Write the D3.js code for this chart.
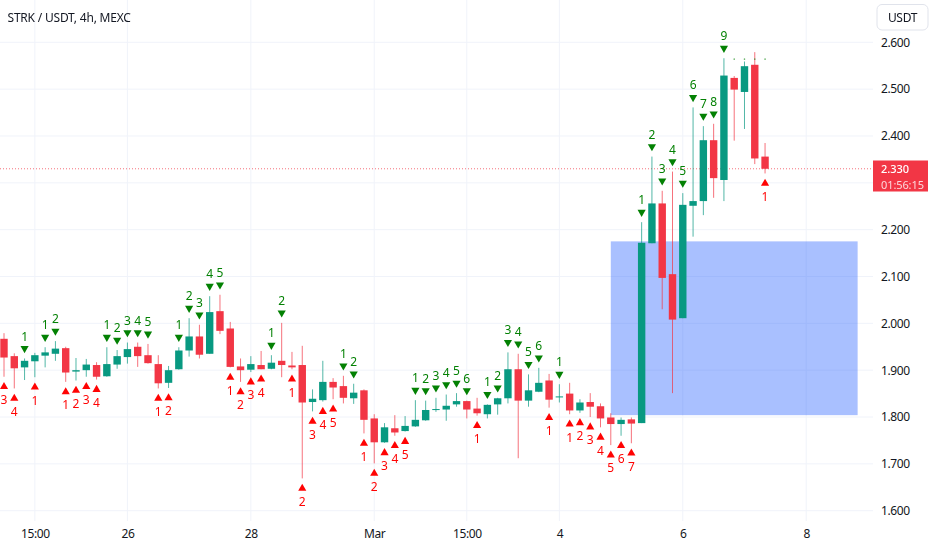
<!DOCTYPE html>
<html>
<head>
<meta charset="utf-8">
<script src="https://d3js.org/d3.v7.min.js"></script>
<style>
  html, body { margin: 0; padding: 0; background: #fff; }
  text { font-family: "Noto Sans", sans-serif; }
  .axis path, .axis line { display: none; }
  .axis text { font-size: 12px; fill: #131722; letter-spacing: -0.4px; }
  .marks { opacity: 0.99; }
</style>
</head>
<body>
<div id="chart"></div>
<script>
// Candle values, one entry per 4h bar
const opens = [
  1.967, 1.930, 1.906, 1.919, 1.931, 1.935, 1.947, 1.897, 1.900, 1.911,
  1.887, 1.912, 1.928, 1.950, 1.932, 1.913, 1.873, 1.902, 1.942, 1.972,
  1.935, 2.026, 1.989, 1.908, 1.901, 1.911, 1.903, 1.920, 1.910, 1.911,
  1.832, 1.836, 1.875, 1.866, 1.840, 1.857, 1.797, 1.746, 1.776, 1.770,
  1.780, 1.793, 1.815, 1.816, 1.827, 1.834, 1.818, 1.806, 1.827, 1.840,
  1.902, 1.835, 1.854, 1.878, 1.843, 1.850, 1.814, 1.832, 1.823, 1.799,
  1.785, 1.795, 1.787, 2.171, 2.256, 2.105, 2.011, 2.251, 2.261, 2.391,
  2.306, 2.524, 2.494, 2.552, 2.356
];
const highs = [
  1.979, 1.936, 1.925, 1.937, 1.949, 1.962, 1.950, 1.926, 1.924, 1.917,
  1.949, 1.943, 1.959, 1.959, 1.956, 1.932, 1.909, 1.949, 2.011, 1.997,
  2.058, 2.061, 2.003, 1.925, 1.930, 1.941, 1.932, 2.001, 1.939, 1.952,
  1.859, 1.920, 1.883, 1.888, 1.871, 1.859, 1.806, 1.787, 1.804, 1.802,
  1.836, 1.835, 1.841, 1.848, 1.851, 1.835, 1.841, 1.827, 1.841, 1.938,
  1.935, 1.891, 1.905, 1.892, 1.870, 1.873, 1.838, 1.851, 1.829, 1.808,
  1.799, 1.799, 2.216, 2.356, 2.283, 2.324, 2.278, 2.461, 2.421, 2.426,
  2.566, 2.528, 2.559, 2.579, 2.385
];
const lows = [
  1.886, 1.861, 1.879, 1.885, 1.906, 1.920, 1.875, 1.878, 1.886, 1.880,
  1.886, 1.903, 1.914, 1.907, 1.914, 1.861, 1.862, 1.901, 1.929, 1.925,
  1.935, 1.977, 1.906, 1.875, 1.896, 1.902, 1.902, 1.885, 1.902, 1.669,
  1.812, 1.833, 1.838, 1.829, 1.828, 1.765, 1.701, 1.745, 1.760, 1.769,
  1.779, 1.792, 1.811, 1.792, 1.822, 1.797, 1.803, 1.797, 1.805, 1.829,
  1.712, 1.822, 1.853, 1.820, 1.831, 1.806, 1.809, 1.800, 1.778, 1.740,
  1.760, 1.744, 1.787, 2.171, 2.030, 1.851, 2.011, 2.185, 2.231, 2.268,
  2.261, 2.390, 2.415, 2.340, 2.320
];
const closes = [
  1.927, 1.904, 1.920, 1.932, 1.938, 1.946, 1.895, 1.900, 1.912, 1.886,
  1.913, 1.930, 1.945, 1.930, 1.915, 1.872, 1.900, 1.942, 1.972, 1.933,
  2.024, 1.984, 1.907, 1.900, 1.913, 1.902, 1.916, 1.911, 1.906, 1.831,
  1.839, 1.875, 1.863, 1.841, 1.852, 1.794, 1.746, 1.778, 1.767, 1.781,
  1.794, 1.815, 1.817, 1.824, 1.834, 1.816, 1.808, 1.826, 1.840, 1.902,
  1.835, 1.857, 1.873, 1.837, 1.844, 1.814, 1.831, 1.822, 1.797, 1.785,
  1.794, 1.786, 2.172, 2.256, 2.097, 2.008, 2.253, 2.261, 2.391, 2.310,
  2.529, 2.499, 2.549, 2.352, 2.330
];

// Sequential count marks: [bar index, count]
const upCounts = [
  [2,1],[4,1],[5,2],[10,1],[11,2],[12,3],[13,4],[14,5],[17,1],[18,2],[19,3],[20,4],[21,5],
  [26,1],[27,2],[33,1],[34,2],[40,1],[41,2],[42,3],[43,4],[44,5],[45,6],[47,1],[48,2],
  [49,3],[50,4],[51,5],[52,6],[54,1],[62,1],[63,2],[64,3],[65,4],[66,5],[67,6],[68,7],[69,8],[70,9]
];
const downCounts = [
  [0,3],[1,4],[3,1],[6,1],[7,2],[8,3],[9,4],[15,1],[16,2],[22,1],[23,2],[24,3],[25,4],
  [28,1],[29,2],[30,3],[31,4],[32,5],[35,1],[36,2],[37,3],[38,4],[39,5],[46,1],[53,1],
  [55,1],[56,2],[57,3],[58,4],[59,5],[60,6],[61,7],[74,1]
];
const tinyDotBars = [71, 72, 73, 74];
const tinyDotPrice = 2.564;

const priceTicks = [1.6, 1.7, 1.8, 1.9, 2.0, 2.1, 2.2, 2.3, 2.4, 2.5, 2.6];
// the 2.300 label sits under the last price tag, so it is not shown
const priceLabels = [1.6, 1.7, 1.8, 1.9, 2.0, 2.1, 2.2, 2.4, 2.5, 2.6];
const timeTickBars = [3, 12, 24, 36, 45, 54, 66, 78];
const timeTickLabels = ["15:00", "26", "28", "Mar", "15:00", "4", "6", "8"];

const zoneBars = [59, 83];
const zonePrices = [2.175, 1.804];
const lastPrice = 2.330;
const countdown = "01:56:15";

// Set up dimensions
const width = 932;
const height = 550;
const plotRight = 873;
const plotBottom = 521;
const green = "#089981";
const red = "#f23645";

const svg = d3.select("#chart")
  .append("svg")
  .attr("width", width)
  .attr("height", height)
  .style("display", "block");

// Scales
const x = d3.scaleLinear().domain([0, 78]).range([4, 806.2]);
const y = d3.scaleLinear().domain([1.6, 2.6]).range([510.7, 42.3]);

// Grid
svg.append("g").selectAll("line").data(priceTicks).join("line")
  .attr("x1", 0).attr("x2", plotRight)
  .attr("y1", d => y(d)).attr("y2", d => y(d))
  .attr("stroke", "#f0f3fa");
svg.append("g").selectAll("line").data(timeTickBars).join("line")
  .attr("x1", d => x(d)).attr("x2", d => x(d))
  .attr("y1", 0).attr("y2", plotBottom)
  .attr("stroke", "#f0f3fa");

// Blue zone
svg.append("rect")
  .attr("x", x(zoneBars[0]))
  .attr("y", y(zonePrices[0]))
  .attr("width", x(zoneBars[1]) - x(zoneBars[0]))
  .attr("height", y(zonePrices[1]) - y(zonePrices[0]))
  .attr("fill", "#2962ff")
  .attr("fill-opacity", 0.4);

// Last price line
svg.append("line")
  .attr("x1", 0).attr("x2", plotRight)
  .attr("y1", y(lastPrice)).attr("y2", y(lastPrice))
  .attr("stroke", red)
  .attr("stroke-dasharray", "1 2")
  .attr("stroke-opacity", 0.7);

// Candles
const bars = d3.range(opens.length);
const barColor = i => closes[i] >= opens[i] ? green : red;

svg.append("g").selectAll("line").data(bars).join("line")
  .attr("x1", i => x(i)).attr("x2", i => x(i))
  .attr("y1", i => y(highs[i])).attr("y2", i => y(lows[i]))
  .attr("stroke", barColor)
  .attr("stroke-opacity", 0.7);

svg.append("g").selectAll("rect").data(bars).join("rect")
  .attr("x", i => x(i) - 3.7)
  .attr("width", 7.4)
  .attr("y", i => y(Math.max(opens[i], closes[i])))
  .attr("height", i => Math.max(1, Math.abs(y(opens[i]) - y(closes[i]))))
  .attr("fill", barColor);

// Count marks
const triangle = d3.symbol().type(d3.symbolTriangle).size(29);

const upMarks = svg.append("g").attr("class", "marks")
  .selectAll("g").data(upCounts).join("g")
  .attr("transform", d => `translate(${x(d[0])},${y(highs[d[0]])})`);
upMarks.append("path")
  .attr("d", triangle)
  .attr("transform", "translate(0,-10) rotate(180)")
  .attr("fill", "#008000");
upMarks.append("text")
  .attr("y", -22.3)
  .attr("dy", "0.36em")
  .attr("text-anchor", "middle")
  .attr("font-size", 12)
  .attr("fill", "#008000")
  .text(d => d[1]);

const downMarks = svg.append("g").attr("class", "marks")
  .selectAll("g").data(downCounts).join("g")
  .attr("transform", d => `translate(${x(d[0])},${y(lows[d[0]])})`);
downMarks.append("path")
  .attr("d", triangle)
  .attr("transform", "translate(0,10)")
  .attr("fill", "#ff0000");
downMarks.append("text")
  .attr("y", 23)
  .attr("dy", "0.36em")
  .attr("text-anchor", "middle")
  .attr("font-size", 12)
  .attr("fill", "#ff0000")
  .text(d => d[1]);

svg.append("g").selectAll("circle").data(tinyDotBars).join("circle")
  .attr("cx", d => x(d))
  .attr("cy", y(tinyDotPrice))
  .attr("r", 0.8)
  .attr("fill", "#008000")
  .attr("fill-opacity", 0.6);

// Axes
svg.append("g")
  .attr("class", "axis")
  .attr("transform", `translate(${plotRight},0)`)
  .call(d3.axisRight(y).tickValues(priceLabels).tickFormat(d3.format(".3f")).tickSize(0).tickPadding(8));

svg.append("g")
  .attr("class", "axis")
  .attr("transform", `translate(0,${plotBottom})`)
  .call(d3.axisBottom(x).tickValues(timeTickBars)
    .tickFormat((d, i) => timeTickLabels[i]).tickSize(0).tickPadding(8));

// Title
svg.append("text")
  .attr("x", 7.5)
  .attr("y", 22)
  .attr("font-size", 12)
  .attr("letter-spacing", "-0.2px")
  .attr("fill", "#131722")
  .text("STRK / USDT, 4h, MEXC");

// Currency button
svg.append("rect")
  .attr("x", 877).attr("y", 4.5)
  .attr("width", 51).attr("height", 25.5)
  .attr("rx", 5)
  .attr("fill", "#fff")
  .attr("stroke", "#e0e3eb");
svg.append("text")
  .attr("x", 902.5).attr("y", 21.5)
  .attr("text-anchor", "middle")
  .attr("font-size", 12)
  .attr("letter-spacing", "-0.3px")
  .attr("fill", "#131722")
  .text("USDT");

// Last price label
svg.append("rect")
  .attr("x", plotRight).attr("y", 160.5)
  .attr("width", 55).attr("height", 31)
  .attr("fill", red);
svg.append("text")
  .attr("x", 881).attr("y", 172.5)
  .attr("font-size", 11)
  .attr("font-weight", 500)
  .attr("fill", "#fff")
  .text(d3.format(".3f")(lastPrice));
svg.append("text")
  .attr("x", 881).attr("y", 188.5)
  .attr("font-size", 11)
  .attr("letter-spacing", "-0.1px")
  .attr("fill", "#fff")
  .attr("fill-opacity", 0.8)
  .text(countdown);
</script>
</body>
</html>
